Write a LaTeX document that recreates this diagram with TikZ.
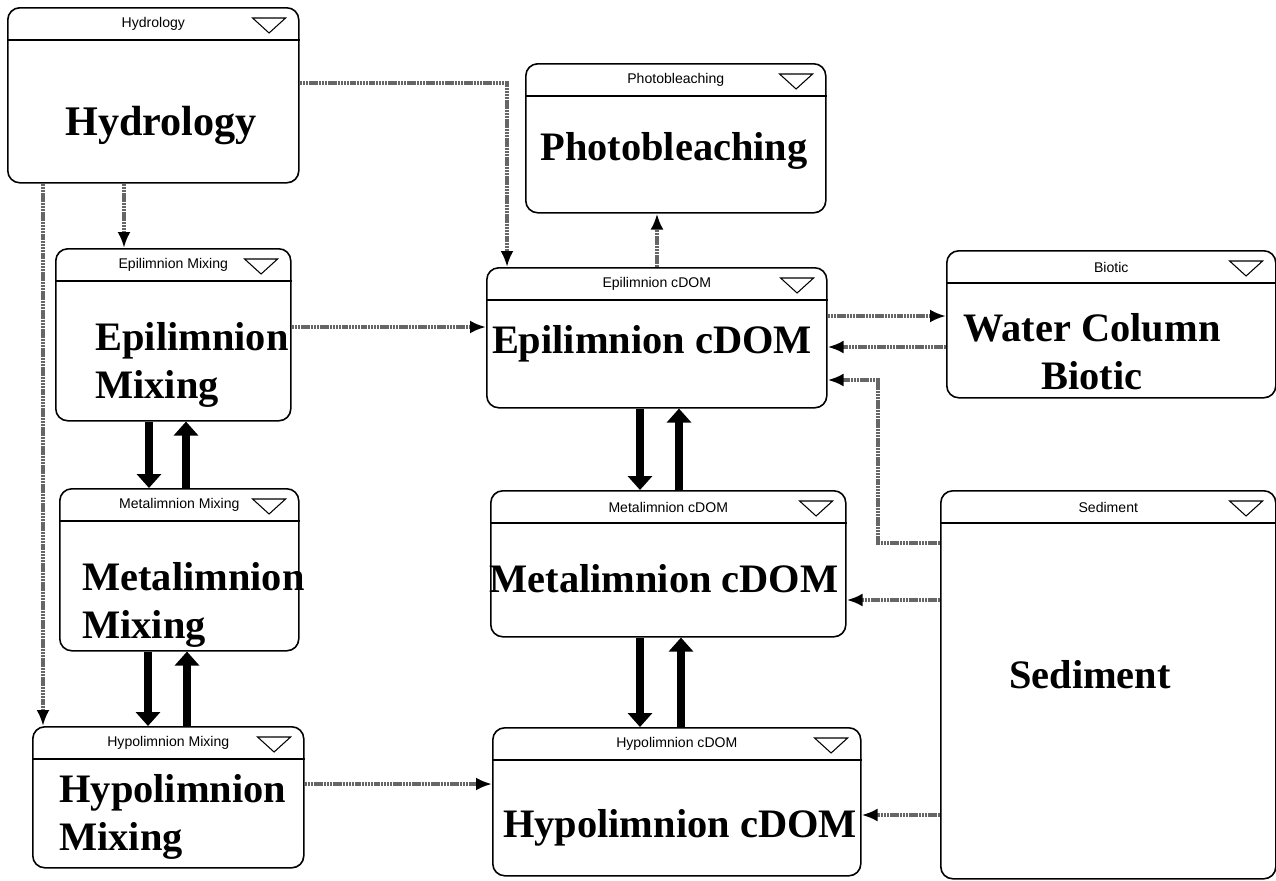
\documentclass[tikz,border=0pt]{standalone}
\usepackage{fontspec}
\setmainfont{Liberation Serif}
\setsansfont{Liberation Sans}
\usetikzlibrary{calc,arrows.meta}

\begin{document}
\begin{tikzpicture}[
		x=0.2mm, y=-0.2mm,
		module/.style={
			draw,
			rounded corners=2.4mm,
			line width=0.9pt,
			inner sep=0,
			anchor=north west
		},
		hdr/.style={font=\sffamily\fontsize{8}{9}\selectfont, inner sep=0},
		lbl/.style={font=\bfseries\fontsize{23}{27.5}\selectfont, inner sep=0},
		flow/.style={
			draw=black!60,
			line width=1.8pt,
			dash pattern=on 1.4pt off 0.4pt,
			-{Latex[color=black,length=3.2mm,width=2.6mm]}
		},
		mix/.style={line width=1.7mm, -{Triangle[length=2.8mm,width=4.8mm]}}
		]
		\useasboundingbox[fill=white] (0,0) rectangle (1276,880);
		% modules with their title bar
		\foreach \n/\x/\y/\w/\h/\t in {
			hydro/7/7/291/175/Hydrology,
			photo/525/63/300/149/Photobleaching,
			epimix/55/248/235/172/Epilimnion Mixing,
			epicdom/486/267/340/140/Epilimnion cDOM,
			biotic/946/250/329/147/Biotic,
			metamix/59/488/239/162/Metalimnion Mixing,
			metacdom/490/490/355/146/Metalimnion cDOM,
			sed/940/490/335/388/Sediment,
			hypomix/32/726/271/141/Hypolimnion Mixing,
			hypocdom/492/727/368/148/Hypolimnion cDOM}
		{
			\node[module, minimum width=\w*0.2mm, minimum height=\h*0.2mm] (\n) at (\x,\y) {};
			\draw[line width=0.7pt] ($(\n.north west)+(0,33)$) -- ($(\n.north east)+(0,33)$);
			\node[hdr] (\n-hdr) at ($(\n.north)+(0,17)$) {\t};
			\draw[line width=0.6pt] ($(\n.north east)+(-47,11)$) -- ++(33,0) -- ++(-16.5,15) -- cycle;
		}
		% module names
		\node[lbl, anchor=base, font=\bfseries\fontsize{24}{28}\selectfont] (hydro-txt) at (161,135) {Hydrology};
		\node[lbl, anchor=base] (photo-txt) at (674,160) {Photobleaching};
		\node[lbl, anchor=west, align=left] (epimix-txt) at (95,365) {Epilimnion\\Mixing};
		\node[lbl, anchor=base] (epicdom-txt) at (652,353) {Epilimnion cDOM};
		\node[lbl, align=center] (biotic-txt) at (1092,352) {Water Column\\Biotic};
		\node[lbl, anchor=west, align=left] (metamix-txt) at (82,605) {Metalimnion\\Mixing};
		\node[lbl, anchor=base] (metacdom-txt) at (664,592) {Metalimnion cDOM};
		\node[lbl, anchor=base] (sed-txt) at (1090,688) {Sediment};
		\node[lbl, anchor=west, align=left] (hypomix-txt) at (59,817) {Hypolimnion\\Mixing};
		\node[lbl, anchor=base] (hypocdom-txt) at (680,837) {Hypolimnion cDOM};
		% Hydrology -> mixing and cDOM
		\draw[flow] ($(hydro.north east)+(0,76)$) -| ($(epicdom.north west)+(21,0)$);
		\draw[flow] ($(hydro.south west)+(117,0)$) coordinate (h1) -- (h1 |- epimix.north);
		\draw[flow] ($(hydro.south west)+(36,0)$) coordinate (h2) -- (h2 |- hypomix.north);
		% Mixing -> cDOM
		\draw[flow] ($(epimix.north east)+(0,79)$) coordinate (e1) -- (e1 -| epicdom.west);
		\draw[flow] ($(hypomix.north east)+(0,58)$) coordinate (m1) -- (m1 -| hypocdom.west);
		% cDOM <-> photobleaching and biotic
		\draw[flow] ($(epicdom.north west)+(171,0)$) coordinate (e2) -- (e2 |- photo.south);
		\draw[flow] ($(epicdom.north east)+(0,49)$) coordinate (e3) -- (e3 -| biotic.west);
		\draw[flow] ($(biotic.north west)+(0,97)$) coordinate (b1) -- (b1 -| epicdom.east);
		% Sediment -> cDOM
		\draw[flow] ($(sed.north west)+(0,53)$) -- ++(-62,0) |- ($(epicdom.north east)+(0,113)$);
		\draw[flow] ($(sed.north west)+(0,110)$) coordinate (s2) -- (s2 -| metacdom.east);
		\draw[flow] ($(sed.north west)+(0,325)$) coordinate (s3) -- (s3 -| hypocdom.east);
		% exchange between layers
		\foreach \a/\b/\xd/\xu in {epimix/metamix/149/186, metamix/hypomix/148/187, epicdom/metacdom/640/679, metacdom/hypocdom/640/681}
		{
			\draw[mix] (\xd,0 |- \a.south) -- (\xd,0 |- \b.north);
			\draw[mix] (\xu,0 |- \b.north) -- (\xu,0 |- \a.south);
		}
\end{tikzpicture}
\end{document}
